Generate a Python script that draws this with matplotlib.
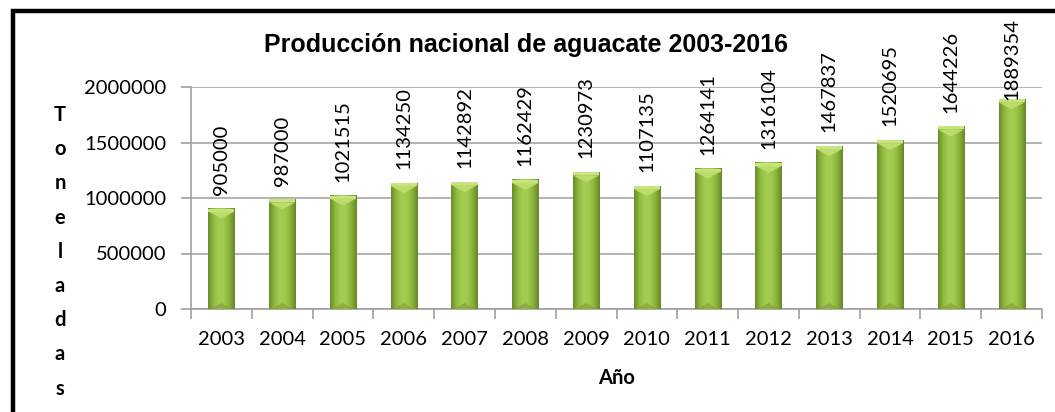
import numpy as np
import matplotlib
matplotlib.use("Agg")
import matplotlib.pyplot as plt
from matplotlib.colors import LinearSegmentedColormap
from matplotlib.patches import Rectangle

years = ["2003", "2004", "2005", "2006", "2007", "2008", "2009",
         "2010", "2011", "2012", "2013", "2014", "2015", "2016"]
production = [905000, 987000, 1021515, 1134250, 1142892, 1162429, 1230973,
              1107135, 1264141, 1316104, 1467837, 1520695, 1644226, 1889354]
y_ticks = [0, 500000, 1000000, 1500000, 2000000]
y_letters = list("Toneladas")

W, H = 1055, 412
fig = plt.figure(figsize=(W / 100, H / 100), dpi=100)
ax = fig.add_axes([191 / W, 1 - 309 / H, (1042 - 191) / W, (309 - 87) / H])

x = np.arange(len(years))
bars = ax.bar(x, production, width=0.43, color="#92bd42", zorder=2)

# cylinder-like shading on each bar
shade = LinearSegmentedColormap.from_list(
    "shade", ["#6a8c28", "#8fba40", "#a3cd52", "#a0ca4e", "#8ab23a", "#66862a"])
grad = np.linspace(0, 1, 64).reshape(1, -1)
px = 2000000 / 222  # data units per pixel
labels = []
for b in bars:
    x0, w, h = b.get_x(), b.get_width(), b.get_height()
    ax.imshow(grad, cmap=shade, aspect="auto", extent=(x0, x0 + w, 0, h),
              zorder=3)
    # top bevel
    ax.add_patch(Rectangle((x0, h - 3 * px), w, 3 * px, color="#c8e47e",
                           zorder=4, lw=0))
    ax.fill([x0, x0 + w, x0 + w / 2], [h - 3 * px, h - 3 * px, h - 10 * px],
            color="#bcdc6c", zorder=4, lw=0)
    # bottom bevel
    ax.fill([x0 + 0.1 * w, x0 + 0.9 * w, x0 + w / 2], [0, 0, 6 * px],
            color="#7d9f33", alpha=0.6, zorder=4, lw=0)
    t = ax.annotate(f"{int(h)}", (x0 + w / 2, h), xytext=(0, 10),
                    textcoords="offset points", rotation=90,
                    ha="center", va="bottom", fontsize=14.5, family="Lato",
                    color="black", zorder=5, annotation_clip=False)
    labels.append(t)

ax.set_xlim(-0.5, len(years) - 0.5)
ax.set_ylim(0, 2000000)
ax.set_yticks(y_ticks)
ax.set_yticklabels([str(v) for v in y_ticks], family="Lato", fontsize=14.5)
ax.set_xticks(x)
ax.set_xticklabels(years, family="Lato", fontsize=14.5)
ax.set_xticks(np.arange(len(years) + 1) - 0.5, minor=True)
ax.tick_params(axis="x", which="major", length=0, pad=16)
ax.tick_params(axis="x", which="minor", length=7, color="#a0a0a0", width=1.2)
ax.tick_params(axis="y", length=7, color="#a0a0a0", width=1.2, pad=11)
ax.grid(axis="y", color="#a6a6a6", lw=1.2, zorder=1)
for s in ["top", "right"]:
    ax.spines[s].set_visible(False)
for s in ["left", "bottom"]:
    ax.spines[s].set_color("#a0a0a0")
    ax.spines[s].set_linewidth(1.2)

fig.text(526 / W, 1 - 45 / H, "Producción nacional de aguacate 2003-2016",
         ha="center", va="center", fontsize=18, fontweight="bold",
         family="Liberation Sans")
fig.text(617 / W, 1 - 378 / H, "Año", ha="center", va="center",
         fontsize=14.5, fontweight="bold", family="Lato")
for i, ch in enumerate(y_letters):
    fig.text(60 / W, 1 - (115 + i * 34.2) / H, ch, ha="center", va="center",
             fontsize=14.5, fontweight="bold", family="Lato")

# keep value labels inside the chart area
fig.canvas.draw()
r = fig.canvas.get_renderer()
top_limit = H - 18
for t in labels:
    ext = t.get_window_extent(r)
    if ext.y1 > top_limit:
        dy = (ext.y1 - top_limit) * 72 / 100
        t.set_position((0, 10 - dy))

# black frame (left and top edges visible)
fig.patches.append(Rectangle((13 / W, -0.1), 1.2, 1 - 11 / H + 0.1,
                             transform=fig.transFigure, fill=False,
                             ec="black", lw=3.2))

fig.savefig("out.png", dpi=100)
